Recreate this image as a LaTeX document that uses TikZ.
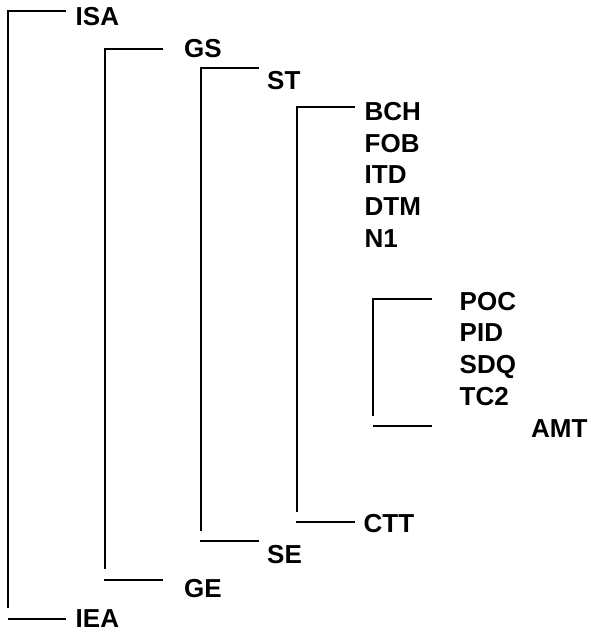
\documentclass[tikz,border=0pt]{standalone}
\usepackage{fontspec}
\setmainfont{Liberation Sans}
\tikzset{
  lbl/.style={anchor=base west, inner sep=0pt, font=\fontsize{26}{31}\selectfont\bfseries},
  ln/.style={line width=2pt}
}
\begin{document}
\begin{tikzpicture}[x=1pt,y=-1pt]
\useasboundingbox (0,0) rectangle (591,632);
% labels
\node[lbl] (isa) at (75.5,25.5) {ISA};
\node[lbl] (gs)  at (184,57) {GS};
\node[lbl] (st)  at (267,89) {ST};
\node[lbl] (bch) at (364.5,120) {BCH};
\node[lbl] (fob) at (364.5,152) {FOB};
\node[lbl] (itd) at (364.5,183.5) {ITD};
\node[lbl] (dtm) at (364.5,215) {DTM};
\node[lbl] (n1)  at (364.5,247) {N1};
\node[lbl] (poc) at (459.5,310) {POC};
\node[lbl] (pid) at (459.5,341.7) {PID};
\node[lbl] (sdq) at (459.5,373) {SDQ};
\node[lbl] (tc2) at (459.5,405) {TC2};
\node[lbl] (amt) at (531,437) {AMT};
\node[lbl] (ctt) at (363.5,532) {CTT};
\node[lbl] (se)  at (267,563) {SE};
\node[lbl] (ge)  at (184,597) {GE};
\node[lbl] (iea) at (75.5,627) {IEA};
% bracket coordinates
\coordinate (isaT) at (66,11);   \coordinate (isaC) at (8,11);   \coordinate (isaV) at (8,608);
\coordinate (ieaL) at (8,619);   \coordinate (ieaR) at (66,619);
\coordinate (gsT) at (163,49.3); \coordinate (gsC) at (105,49.3); \coordinate (gsV) at (105,569);
\coordinate (geL) at (104,580);  \coordinate (geR) at (163,580);
\coordinate (stT) at (259,68.3); \coordinate (stC) at (201,68.3); \coordinate (stV) at (201,531);
\coordinate (seL) at (200,541.3); \coordinate (seR) at (259,541.3);
\coordinate (bchT) at (355,106.7); \coordinate (bchC) at (297,106.7); \coordinate (bchV) at (297,512);
\coordinate (cttL) at (296,522.3); \coordinate (cttR) at (355,522.3);
\coordinate (pocT) at (432,299); \coordinate (pocC) at (373,299); \coordinate (pocV) at (373,416);
\coordinate (amtL) at (373,426); \coordinate (amtR) at (432,426);
% brackets
\draw[ln] (isaT) -- (isaC) -- (isaV);
\draw[ln] (ieaL) -- (ieaR);
\draw[ln] (gsT) -- (gsC) -- (gsV);
\draw[ln] (geL) -- (geR);
\draw[ln] (stT) -- (stC) -- (stV);
\draw[ln] (seL) -- (seR);
\draw[ln] (bchT) -- (bchC) -- (bchV);
\draw[ln] (cttL) -- (cttR);
\draw[ln] (pocT) -- (pocC) -- (pocV);
\draw[ln] (amtL) -- (amtR);
\end{tikzpicture}
\end{document}
